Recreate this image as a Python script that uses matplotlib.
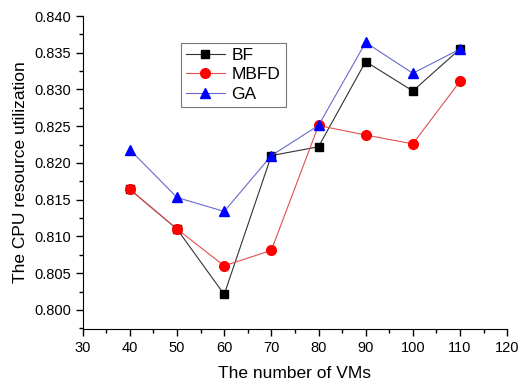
import matplotlib
matplotlib.use("Agg")
import matplotlib.pyplot as plt
from matplotlib.ticker import MultipleLocator, FormatStrFormatter

plt.rcParams['font.family'] = ['Liberation Sans', 'DejaVu Sans']

vms = [40, 50, 60, 70, 80, 90, 100, 110]
bf = [0.8164, 0.8110, 0.8021, 0.8210, 0.8222, 0.8338, 0.8298, 0.8355]
mbfd = [0.8164, 0.8110, 0.8060, 0.8081, 0.8251, 0.8238, 0.8226, 0.8311]
ga = [0.8218, 0.8153, 0.8134, 0.8210, 0.8251, 0.8364, 0.8322, 0.8355]

fig = plt.figure(figsize=(5.18, 3.81), dpi=100)
ax = fig.add_axes([0.1597, 0.1365, 0.8193, 0.8215])

ax.plot(vms, bf, color='#333333', lw=0.8, marker='s', ms=6, mfc='black', mec='black', label='BF')
ax.plot(vms, mbfd, color='#e05050', lw=0.8, marker='o', ms=7, mfc='red', mec='red', label='MBFD')
ax.plot(vms, ga, color='#6a6acc', lw=0.8, marker='^', ms=7, mfc='blue', mec='blue', label='GA')

ax.set_xlim(30, 120)
ax.set_ylim(0.7974, 0.840)
ax.xaxis.set_major_locator(MultipleLocator(10))
ax.xaxis.set_minor_locator(MultipleLocator(5))
ax.yaxis.set_major_locator(MultipleLocator(0.005))
ax.yaxis.set_minor_locator(MultipleLocator(0.0025))
ax.yaxis.set_major_formatter(FormatStrFormatter('%.3f'))

for s in ['top', 'right']:
    ax.spines[s].set_visible(False)
ax.spines['left'].set_bounds(0.7974, 0.840)
ax.tick_params(which='major', direction='out', length=5, width=1, labelsize=10.5)
ax.tick_params(which='minor', direction='out', length=3, width=1)

ax.set_xlabel('The number of VMs', fontsize=12.5, labelpad=8)
ax.set_ylabel('The CPU resource utilization', fontsize=12.5, labelpad=4)

leg = ax.legend(loc='upper left', bbox_to_anchor=(0.232, 0.915), borderaxespad=0,
                fontsize=12.5, frameon=True, fancybox=False, edgecolor='#555555',
                handlelength=2.2, borderpad=0.3, labelspacing=0.25, handletextpad=0.4)
leg.get_frame().set_linewidth(0.8)

fig.savefig('out.png', dpi=100)
